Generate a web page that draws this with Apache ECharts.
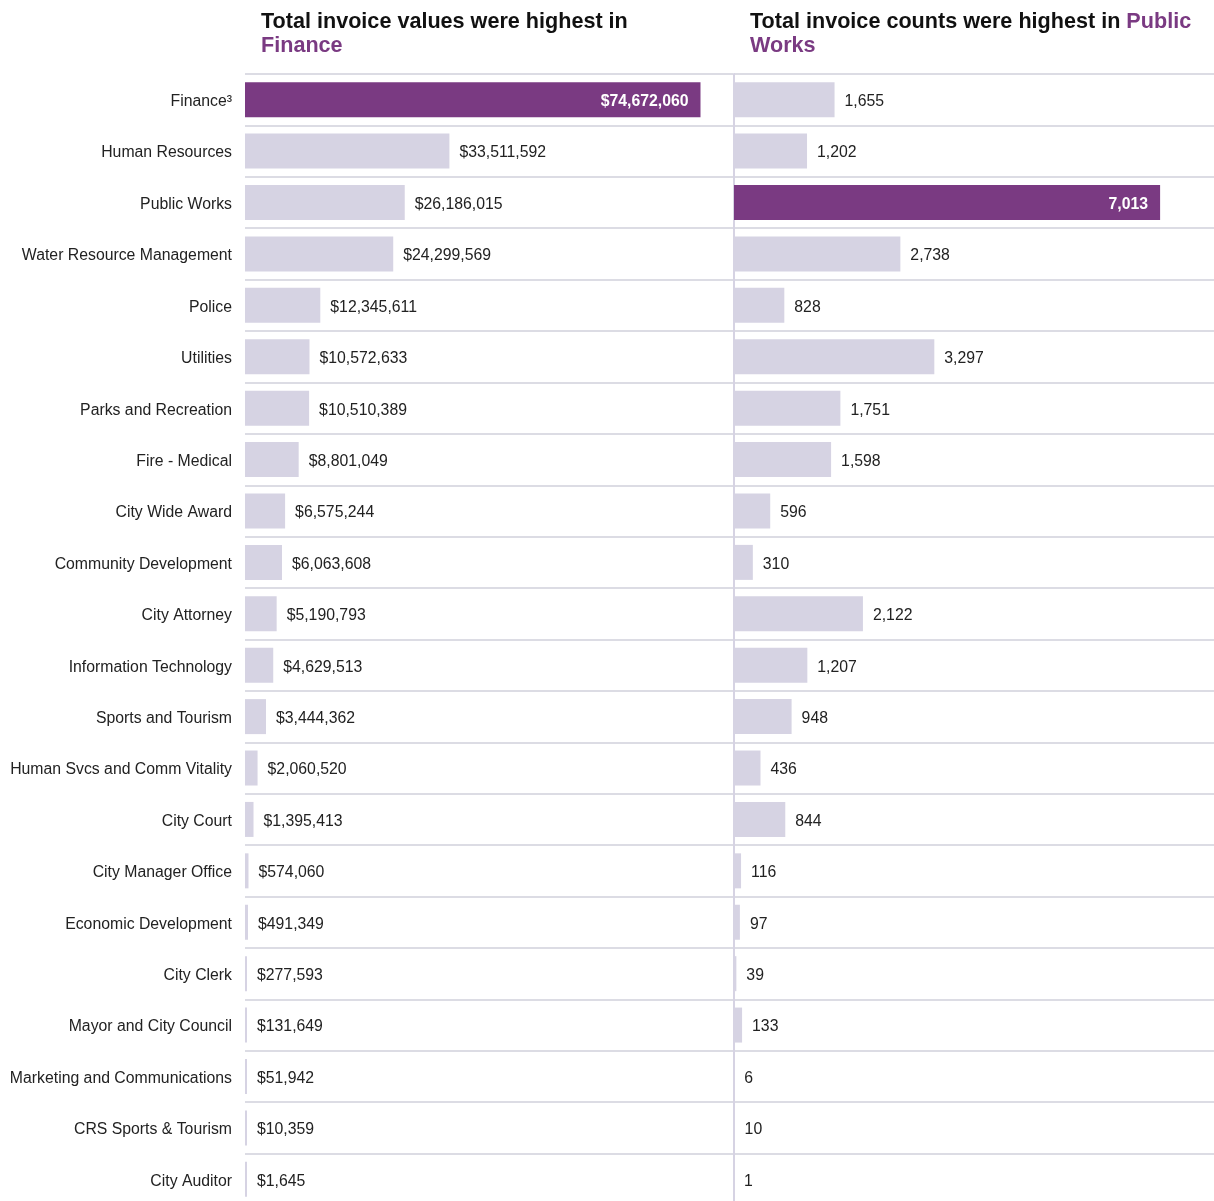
<!DOCTYPE html>
<html>
<head>
<meta charset="utf-8">
<script src="https://cdn.jsdelivr.net/npm/echarts@6/dist/echarts.min.js"></script>
<style>
html,body{margin:0;padding:0;background:#fff;}
#chart{width:1214px;height:1201px;}
</style>
</head>
<body>
<div id="chart"></div>
<script>
const categories = ['Finance³','Human Resources','Public Works','Water Resource Management','Police','Utilities','Parks and Recreation','Fire - Medical','City Wide Award','Community Development','City Attorney','Information Technology','Sports and Tourism','Human Svcs and Comm Vitality','City Court','City Manager Office','Economic Development','City Clerk','Mayor and City Council','Marketing and Communications','CRS Sports & Tourism','City Auditor'];
const invoiceValues = [74672060,33511592,26186015,24299569,12345611,10572633,10510389,8801049,6575244,6063608,5190793,4629513,3444362,2060520,1395413,574060,491349,277593,131649,51942,10359,1645];
const invoiceCounts = [1655,1202,7013,2738,828,3297,1751,1598,596,310,2122,1207,948,436,844,116,97,39,133,6,10,1];
const highlightValueIdx = 0;
const highlightCountIdx = 2;

const PURPLE = '#7a3a82';
const LIGHT = '#d6d3e3';
const SEP = '#dcdce4';
const FONT = 'Liberation Sans';
const LABEL_SIZE = 15.8;

function fmtNum(v){ return v.toLocaleString('en-US'); }

function makeData(values, hi){
  return values.map((v,i)=>{
    if(i===hi){
      return {value:v, itemStyle:{color:PURPLE},
        label:{position:'insideRight', distance:12, color:'#fff', fontWeight:'bold'}};
    }
    return {value:v};
  });
}

const chart = echarts.init(document.getElementById('chart'), null, {renderer:'canvas'});
const catAxisBase = {
  type:'category', data:categories, inverse:true,
  axisTick:{show:false},
  splitLine:{show:true, interval:0, lineStyle:{color:SEP, width:2}}
};
const titleRich = {
  a:{fontSize:21.6, fontWeight:'bold', color:'#111', fontFamily:FONT, lineHeight:24},
  b:{fontSize:21.6, fontWeight:'bold', color:PURPLE, fontFamily:FONT, lineHeight:24}
};
chart.setOption({
  animation:false,
  textStyle:{fontFamily:FONT},
  title:[
    {left:261, top:10, padding:0, text:'{a|Total invoice values were highest in}\n{b|Finance}',
     textStyle:{rich:titleRich}},
    {left:750, top:10, padding:0, text:'{a|Total invoice counts were highest in }{b|Public}\n{b|Works}',
     textStyle:{rich:titleRich}}
  ],
  grid:[
    {left:245, top:74, width:488, height:1131, outerBoundsMode:'none', containLabel:false},
    {left:734, top:74, width:480, height:1131, outerBoundsMode:'none', containLabel:false}
  ],
  xAxis:[
    {gridIndex:0, type:'value', min:0, max:80000000, show:false},
    {gridIndex:1, type:'value', min:0, max:7900, show:false}
  ],
  yAxis:[
    Object.assign({}, catAxisBase, {gridIndex:0,
      axisLine:{show:false},
      axisLabel:{margin:13, formatter:v=>'{l|'+v+'}',
        rich:{l:{color:'#222', fontSize:LABEL_SIZE, fontFamily:FONT, padding:[4,0,0,0]}}}}),
    Object.assign({}, catAxisBase, {gridIndex:1,
      axisLine:{show:true, lineStyle:{color:LIGHT, width:2}},
      axisLabel:{show:false}})
  ],
  series:[
    {type:'bar', xAxisIndex:0, yAxisIndex:0, barWidth:35, barMinHeight:2,
     itemStyle:{color:LIGHT},
     label:{show:true, position:'right', distance:10, offset:[0,2], color:'#222', fontSize:LABEL_SIZE, fontFamily:FONT,
       formatter:p=>'$'+fmtNum(p.value)},
     data:makeData(invoiceValues, highlightValueIdx)},
    {type:'bar', xAxisIndex:1, yAxisIndex:1, barWidth:35, barMinHeight:0,
     itemStyle:{color:LIGHT},
     label:{show:true, position:'right', distance:10, offset:[0,2], color:'#222', fontSize:LABEL_SIZE, fontFamily:FONT,
       formatter:p=>fmtNum(p.value)},
     data:makeData(invoiceCounts, highlightCountIdx)}
  ]
});
</script>
</body>
</html>
